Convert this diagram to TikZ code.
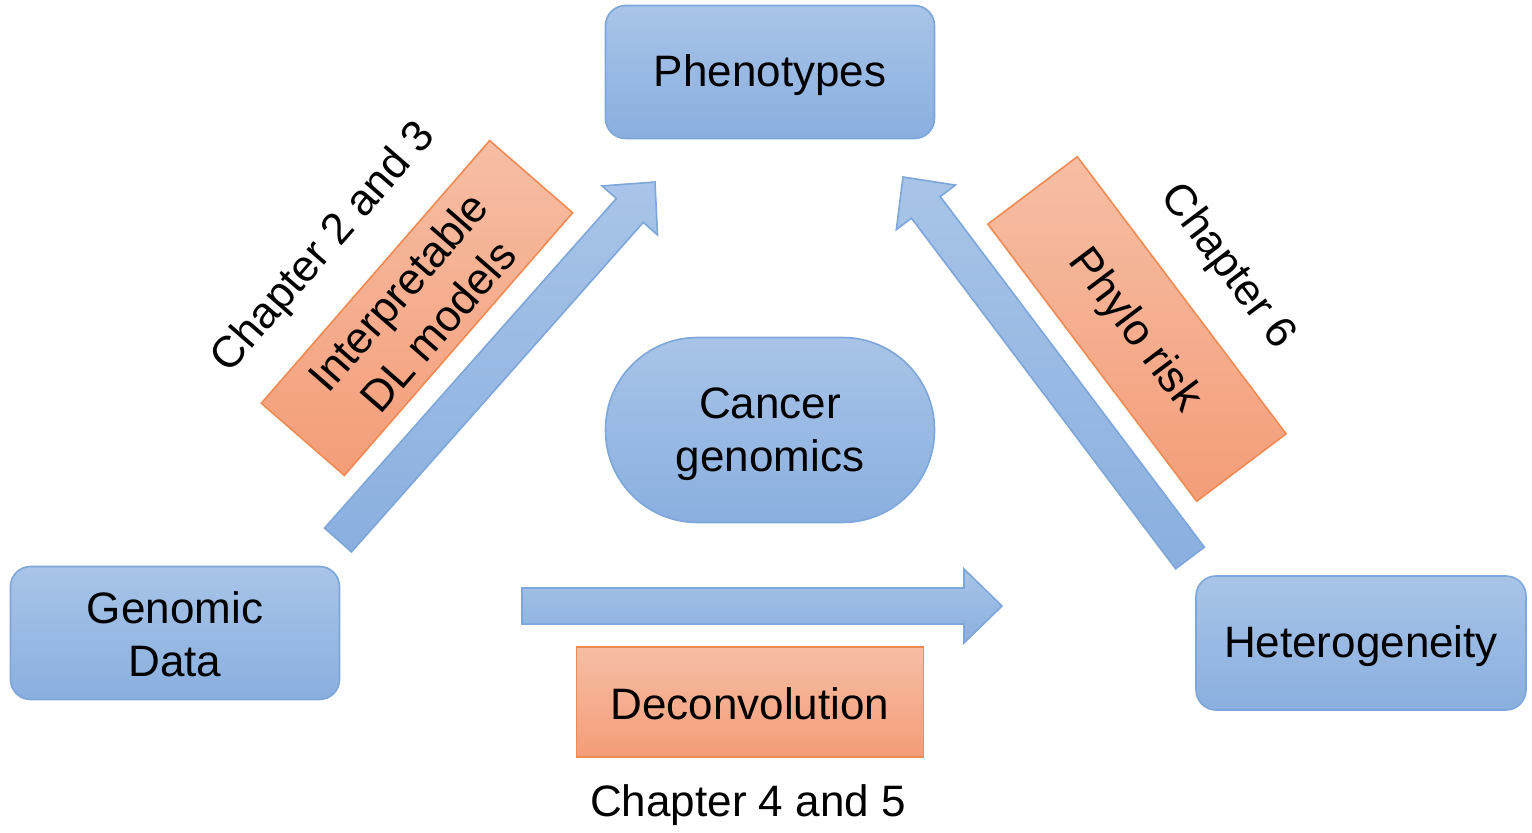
\documentclass[tikz,border=0pt]{standalone}
\usepackage{fontspec}
\setmainfont{Liberation Sans}
\usetikzlibrary{calc}
\definecolor{bluetop}{HTML}{A8C4E8}
\definecolor{bluebot}{HTML}{8AAFDF}
\definecolor{blueline}{HTML}{7DA6DA}
\definecolor{orgtop}{HTML}{F6BEA4}
\definecolor{orgbot}{HTML}{F49D78}
\definecolor{orgline}{HTML}{F08A52}
\newcommand\ms{\rule[-2.5pt]{0pt}{22pt}}
\tikzset{
  bluebox/.style={draw=blueline, line width=0.8pt, top color=bluetop, bottom color=bluebot,
    rounded corners=10pt, minimum width=164.5pt, minimum height=66.5pt, align=center,
    inner sep=0pt, font=\fontsize{22}{26.5}\selectfont},
  orgbox/.style={draw=orgline, line width=0.8pt, top color=orgtop, bottom color=orgbot,
    minimum width=174pt, minimum height=55pt, align=center, inner sep=0pt,
    font=\fontsize{22}{26.5}\selectfont},
  chap/.style={font=\fontsize{22}{26.5}\selectfont, inner sep=0pt},
  arrowsty/.style={draw=blueline, line width=0.8pt, top color=bluetop, bottom color=bluebot},
}
\newcommand\blockarrow[3]{%
  \coordinate (#1h) at ($(#3)!19pt!(#2)$);
  \path[arrowsty] ($(#2)!9pt!90:(#3)$) -- ($(#1h)!9pt!90:(#3)$) -- ($(#1h)!18.5pt!90:(#3)$)
    -- (#3) -- ($(#1h)!18.5pt!-90:(#3)$) -- ($(#1h)!9pt!-90:(#3)$) -- ($(#2)!9pt!-90:(#3)$) -- cycle;
}
\begin{document}
\begin{tikzpicture}[x=0.5pt,y=0.5pt]
\useasboundingbox (0,0) rectangle (1532,832);
% nodes
\node[bluebox] (pheno) at (770,760) {\ms Phenotypes};
\node[bluebox] (gdata) at (175,199) {\ms Genomic\\\ms Data};
\node[bluebox, minimum width=165pt, minimum height=67pt] (het) at (1361,189) {\ms Heterogeneity};
\node[bluebox, minimum height=92.5pt, rounded corners=46pt] (cancer) at (770,402) {\ms Cancer\\\ms genomics};
\node[orgbox, minimum width=173.5pt] (deconv) at (750,130) {\ms Deconvolution};
\node[orgbox, rotate=49] (interp) at (417,524) {\ms Interpretable\\\ms DL models};
\node[orgbox, minimum width=173.5pt, minimum height=56pt, rotate=-53] (phylo) at (1137,503) {\ms Phylo risk};
\node[chap, rotate=49] (ch23) at (322,586) {\ms Chapter 2 and 3};
\node[chap, rotate=-53] (ch6) at (1230,567) {\ms Chapter 6};
\node[chap] (ch45) at (748,30) {\ms Chapter 4 and 5};
% arrows
\coordinate (a1t) at (338,292);
\coordinate (a1p) at (655,650);
\coordinate (a2t) at (1190,274);
\coordinate (a2p) at (903,655);
\coordinate (a3t) at (522,226);
\coordinate (a3p) at (1002,226);
\blockarrow{a1}{a1t}{a1p}
\blockarrow{a2}{a2t}{a2p}
\blockarrow{a3}{a3t}{a3p}
\end{tikzpicture}
\end{document}
